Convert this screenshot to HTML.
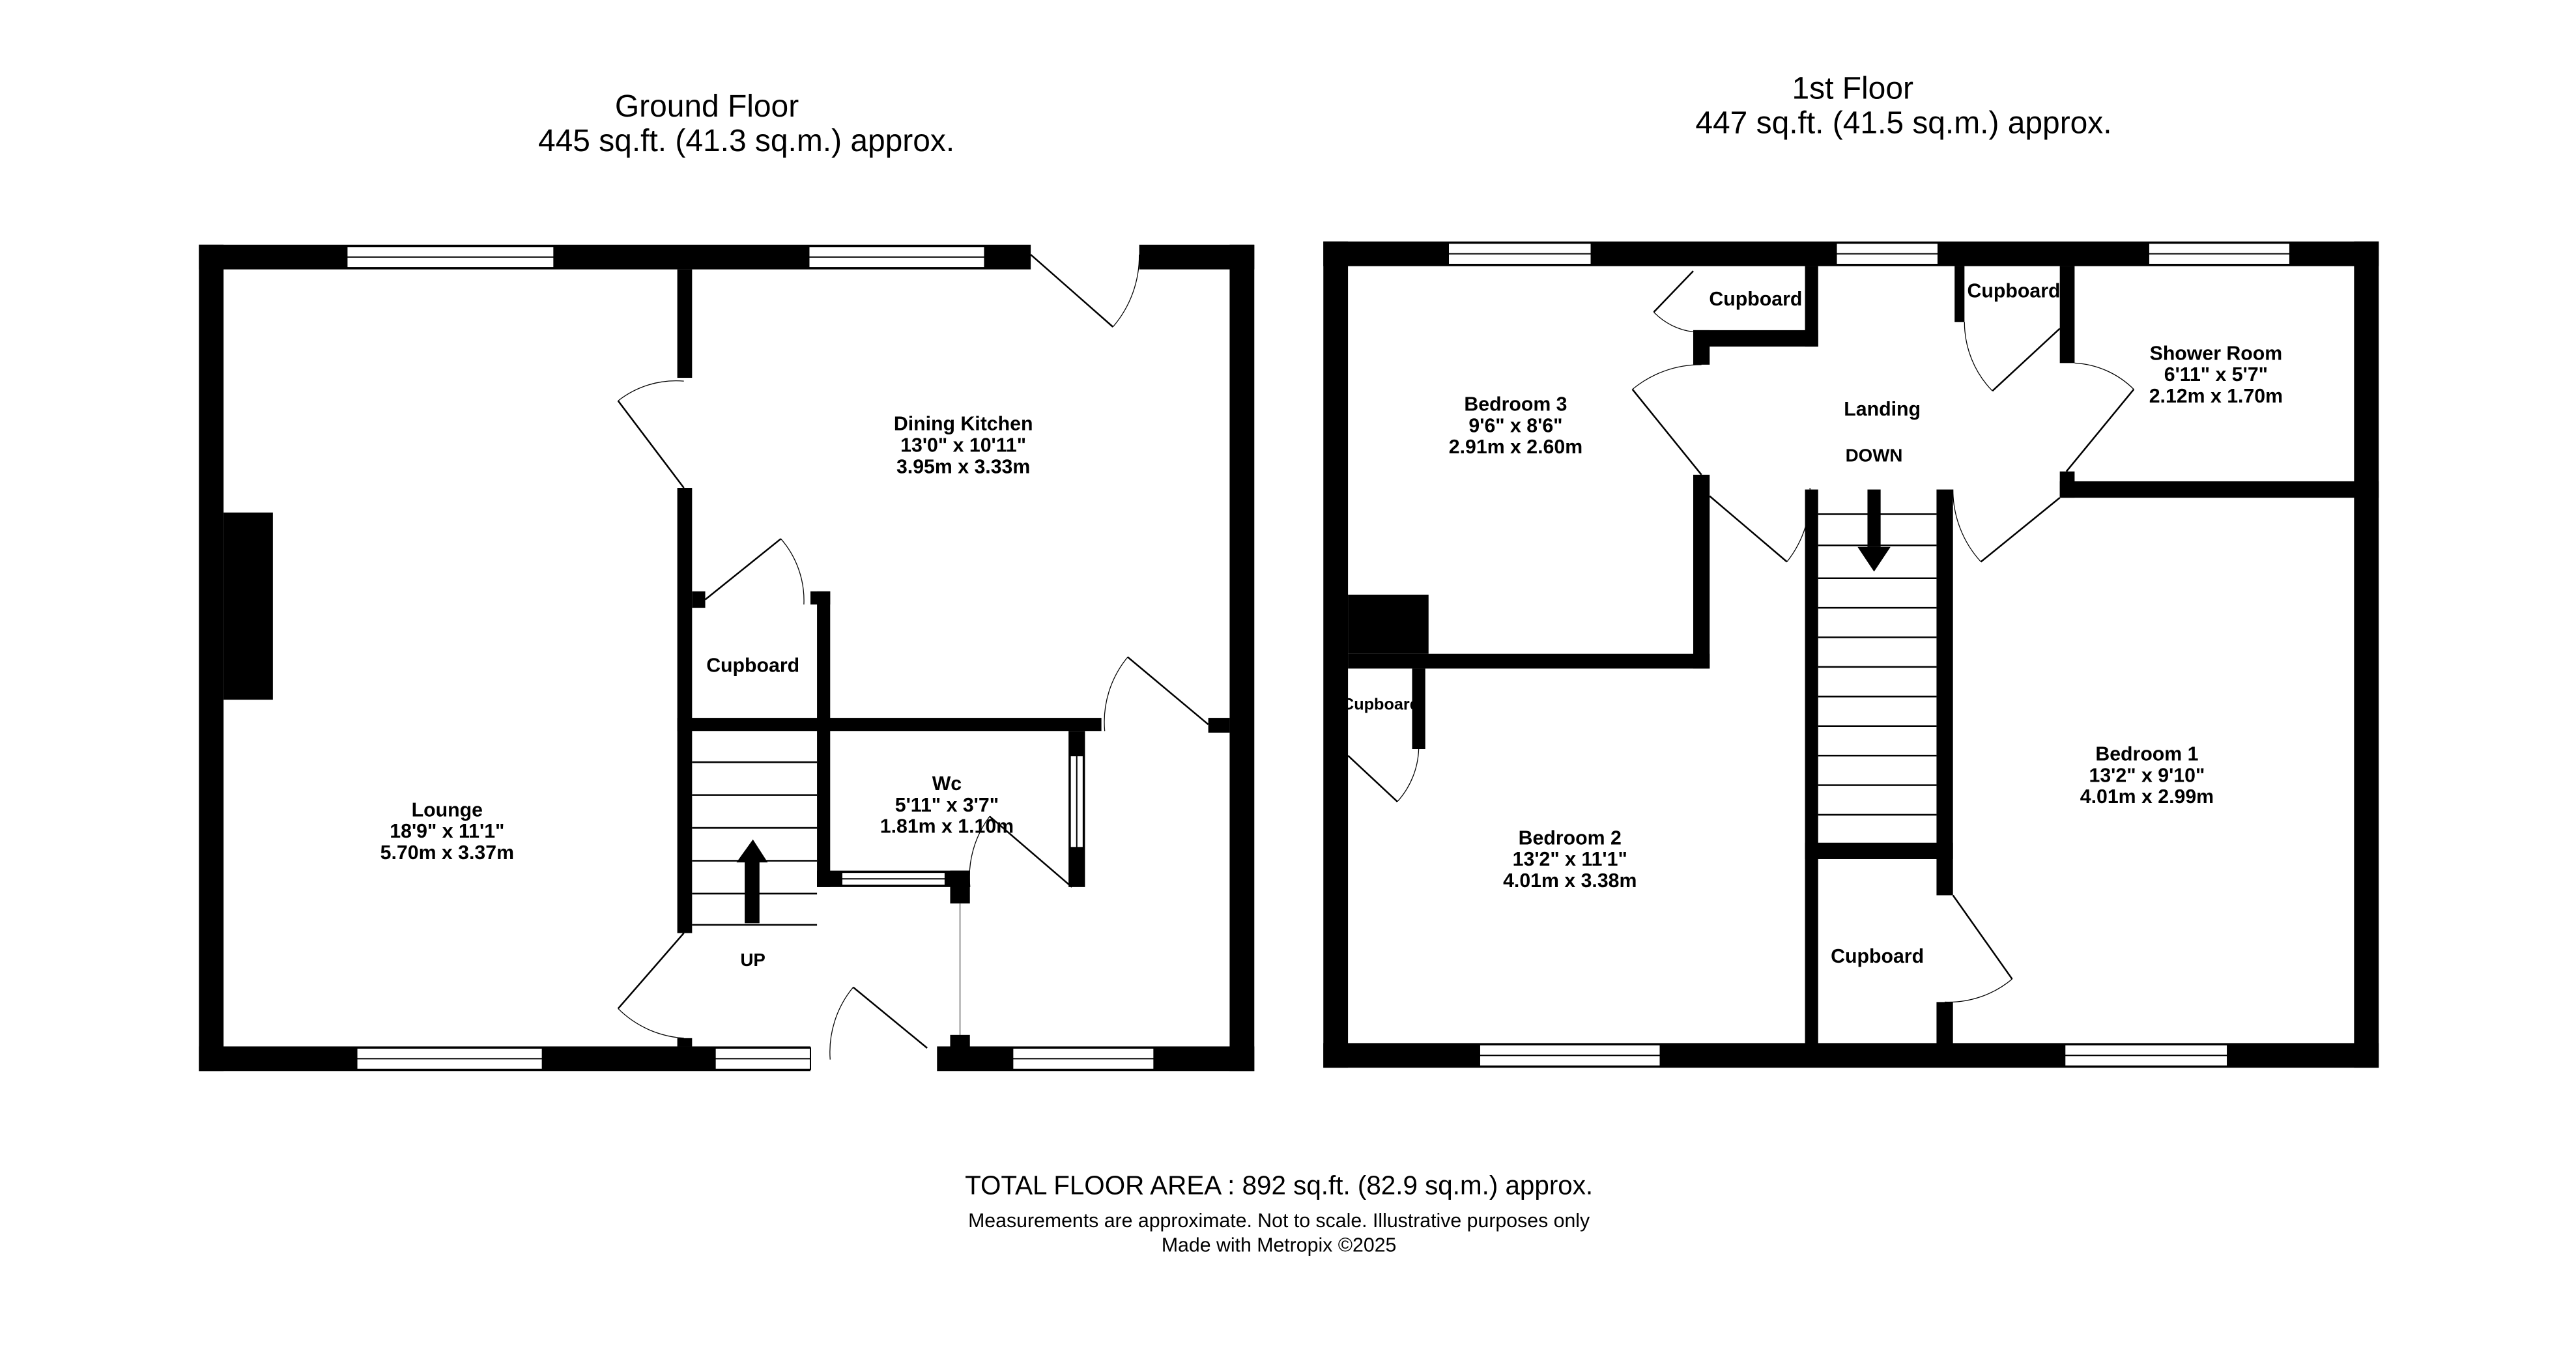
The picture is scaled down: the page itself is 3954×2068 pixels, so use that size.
<!DOCTYPE html>
<html><head><meta charset="utf-8"><style>
html,body{margin:0;padding:0;background:#fff}
svg{display:block}
text{font-family:"Liberation Sans",sans-serif;fill:#000}
.b{font-weight:bold;font-size:12px}
</style></head><body>
<svg width="3954" height="2068" viewBox="0 0 1567 820" preserveAspectRatio="none" xmlns="http://www.w3.org/2000/svg">
<rect width="1567" height="820" fill="#fff"/>
<g text-anchor="middle">
<text x="430" y="71" font-size="19">Ground Floor</text>
<text x="454" y="92" font-size="19">445 sq.ft. (41.3 sq.m.) approx.</text>
<text x="1127" y="60" font-size="19">1st Floor</text>
<text x="1158" y="81" font-size="19">447 sq.ft. (41.5 sq.m.) approx.</text>
<text x="778" y="727" font-size="16">TOTAL FLOOR AREA : 892 sq.ft. (82.9 sq.m.) approx.</text>
<text x="778" y="747" font-size="12">Measurements are approximate.  Not to scale.  Illustrative purposes only</text>
<text x="778" y="762" font-size="12">Made with Metropix ©2025</text>
</g>
<g fill="#000">
<rect x="121" y="149" width="642" height="15"/>
<rect x="121" y="149" width="15" height="503"/>
<rect x="748" y="149" width="15" height="503"/>
<rect x="121" y="637" width="642" height="15"/>
<rect x="627" y="145" width="66" height="24" fill="#fff"/>
<rect x="493" y="633" width="77" height="24" fill="#fff"/>
<rect x="136" y="312" width="30" height="114"/>
<rect x="412" y="164" width="9" height="66"/>
<rect x="412" y="297" width="9" height="271"/>
<rect x="421" y="360" width="8" height="10"/>
<rect x="412" y="437" width="258" height="8"/>
<rect x="493" y="360" width="12" height="8"/>
<rect x="497" y="360" width="8" height="180"/>
<rect x="497" y="530" width="93" height="10"/>
<rect x="578" y="530" width="12" height="20"/>
<rect x="650" y="445" width="10" height="95"/>
<rect x="735" y="437" width="13" height="9"/>
<rect x="578" y="630" width="12" height="10"/>
<rect x="412" y="632" width="9" height="5"/>
<rect x="805" y="147" width="642" height="15"/>
<rect x="805" y="147" width="15" height="503"/>
<rect x="1432" y="147" width="15" height="503"/>
<rect x="805" y="635" width="642" height="15"/>
<rect x="1098" y="162" width="8" height="49"/>
<rect x="1030" y="201" width="76" height="10"/>
<rect x="1030" y="201" width="10" height="21"/>
<rect x="1030" y="289" width="10" height="118"/>
<rect x="820" y="398" width="220" height="9"/>
<rect x="820" y="362" width="49" height="36"/>
<rect x="859" y="407" width="8" height="49"/>
<rect x="1189" y="162" width="6" height="34"/>
<rect x="1253" y="162" width="9" height="59"/>
<rect x="1253" y="293" width="194" height="10"/>
<rect x="1253" y="287" width="9" height="16"/>
<rect x="1098" y="298" width="8" height="342"/>
<rect x="1178" y="298" width="10" height="247"/>
<rect x="1098" y="513" width="90" height="10"/>
<rect x="1178" y="610" width="10" height="27"/>
<rect x="1136" y="298" width="8" height="35"/>
<polygon points="1130,333 1150,333 1140,348"/>
<rect x="453" y="522" width="9" height="40"/>
<polygon points="448,525 467,525 458,511"/>
</g>
<g fill="#fff" stroke="#000" stroke-width="0.8">
<rect x="211" y="150" width="126" height="13"/><line x1="211" y1="156.5" x2="337" y2="156.5"/>
<rect x="492" y="150" width="107" height="13"/><line x1="492" y1="156.5" x2="599" y2="156.5"/>
<rect x="217" y="638" width="113" height="13"/><line x1="217" y1="644.5" x2="330" y2="644.5"/>
<rect x="435" y="638" width="58" height="13"/><line x1="435" y1="644.5" x2="493" y2="644.5"/>
<rect x="616" y="638" width="86" height="13"/><line x1="616" y1="644.5" x2="702" y2="644.5"/>
<rect x="512" y="531" width="63" height="8"/><line x1="512" y1="535" x2="575" y2="535"/>
<rect x="651" y="460" width="8" height="56"/><line x1="655" y1="460" x2="655" y2="516"/>
<rect x="881" y="148" width="87" height="13"/><line x1="881" y1="154.5" x2="968" y2="154.5"/>
<rect x="1117" y="148" width="62" height="13"/><line x1="1117" y1="154.5" x2="1179" y2="154.5"/>
<rect x="1307" y="148" width="86" height="13"/><line x1="1307" y1="154.5" x2="1393" y2="154.5"/>
<rect x="900" y="636" width="110" height="13"/><line x1="900" y1="642.5" x2="1010" y2="642.5"/>
<rect x="1256" y="636" width="99" height="13"/><line x1="1256" y1="642.5" x2="1355" y2="642.5"/>
</g>
<g stroke="#000" fill="none" stroke-width="1">
<line x1="421" y1="464" x2="497" y2="464"/><line x1="421" y1="484" x2="497" y2="484"/>
<line x1="421" y1="504" x2="497" y2="504"/><line x1="421" y1="524" x2="497" y2="524"/>
<line x1="421" y1="544" x2="497" y2="544"/><line x1="421" y1="563" x2="497" y2="563"/>
<line x1="1106" y1="313" x2="1178" y2="313"/><line x1="1106" y1="332" x2="1178" y2="332"/>
<line x1="1106" y1="352" x2="1178" y2="352"/><line x1="1106" y1="370" x2="1178" y2="370"/>
<line x1="1106" y1="388" x2="1178" y2="388"/><line x1="1106" y1="406" x2="1178" y2="406"/>
<line x1="1106" y1="424" x2="1178" y2="424"/><line x1="1106" y1="442" x2="1178" y2="442"/>
<line x1="1106" y1="460" x2="1178" y2="460"/><line x1="1106" y1="478" x2="1178" y2="478"/>
<line x1="1106" y1="496" x2="1178" y2="496"/>
</g>
<g stroke="#000" fill="none" stroke-width="1">
<line x1="627" y1="155" x2="677" y2="199"/><path d="M677,199 A66,66 0 0 0 693,155" stroke-width="0.5"/>
<line x1="416" y1="297" x2="376" y2="244"/><path d="M376,244 A57,57 0 0 1 416,232" stroke-width="0.5"/>
<line x1="429" y1="365" x2="475" y2="328"/><path d="M475,328 A57,57 0 0 1 489,368" stroke-width="0.5"/>
<line x1="735" y1="441" x2="686" y2="400"/><path d="M686,400 A62,62 0 0 0 672,445" stroke-width="0.5"/>
<line x1="652" y1="540" x2="602" y2="497"/><path d="M602,497 A62,62 0 0 0 590,540" stroke-width="0.5"/>
<line x1="416" y1="568" x2="376" y2="614"/><path d="M376,614 A62,62 0 0 0 416,632" stroke-width="0.5"/>
<line x1="564" y1="638" x2="519" y2="601"/><path d="M519,601 A62,62 0 0 0 505,645" stroke-width="0.5"/>
<line x1="584" y1="550" x2="584" y2="630" stroke-width="0.4"/>
<line x1="1030" y1="165" x2="1006" y2="190"/><path d="M1006,190 A40,40 0 0 0 1030,202" stroke-width="0.5"/>
<line x1="1035" y1="289" x2="993" y2="237"/><path d="M993,237 A65,65 0 0 1 1035,222" stroke-width="0.5"/>
<line x1="1040" y1="302" x2="1087" y2="342"/><path d="M1087,342 A65,65 0 0 0 1101,297" stroke-width="0.5"/>
<line x1="1253" y1="200" x2="1212" y2="238"/><path d="M1212,238 A60,60 0 0 1 1195,196" stroke-width="0.5"/>
<line x1="1257" y1="287" x2="1298" y2="237"/><path d="M1298,237 A55,55 0 0 0 1262,221" stroke-width="0.5"/>
<line x1="1253" y1="303" x2="1205" y2="342"/><path d="M1205,342 A65,65 0 0 1 1188,298" stroke-width="0.5"/>
<line x1="820" y1="460" x2="850" y2="488"/><path d="M850,488 A50,50 0 0 0 863,456" stroke-width="0.5"/>
<line x1="1188" y1="545" x2="1224" y2="596"/><path d="M1224,596 A60,60 0 0 1 1183,610" stroke-width="0.5"/>
</g>
<g text-anchor="middle" class="b">
<text x="586" y="262" class="b">Dining Kitchen</text>
<text x="586" y="275" class="b">13'0"  x 10'11"</text>
<text x="586" y="288" class="b">3.95m  x 3.33m</text>
<text x="458" y="409" class="b">Cupboard</text>
<text x="272" y="497" class="b">Lounge</text>
<text x="272" y="510" class="b">18'9"  x 11'1"</text>
<text x="272" y="523" class="b">5.70m  x 3.37m</text>
<text x="576" y="481" class="b">Wc</text>
<text x="576" y="494" class="b">5'11"  x 3'7"</text>
<text x="576" y="507" class="b">1.81m  x 1.10m</text>
<text x="458" y="588" font-size="11">UP</text>
<text x="1068" y="186" class="b">Cupboard</text>
<text x="1225" y="181" class="b">Cupboard</text>
<text x="1348" y="219" class="b">Shower Room</text>
<text x="1348" y="232" class="b">6'11"  x 5'7"</text>
<text x="1348" y="245" class="b">2.12m  x 1.70m</text>
<text x="922" y="250" class="b">Bedroom 3</text>
<text x="922" y="263" class="b">9'6"  x 8'6"</text>
<text x="922" y="276" class="b">2.91m  x 2.60m</text>
<text x="1145" y="253" class="b">Landing</text>
<text x="1140" y="281" font-size="11">DOWN</text>
<text x="840" y="432" font-size="10" font-weight="bold">Cupboard</text>
<text x="1306" y="463" class="b">Bedroom 1</text>
<text x="1306" y="476" class="b">13'2"  x 9'10"</text>
<text x="1306" y="489" class="b">4.01m  x 2.99m</text>
<text x="955" y="514" class="b">Bedroom 2</text>
<text x="955" y="527" class="b">13'2"  x 11'1"</text>
<text x="955" y="540" class="b">4.01m  x 3.38m</text>
<text x="1142" y="586" class="b">Cupboard</text>
</g>
</svg>
</body></html>
